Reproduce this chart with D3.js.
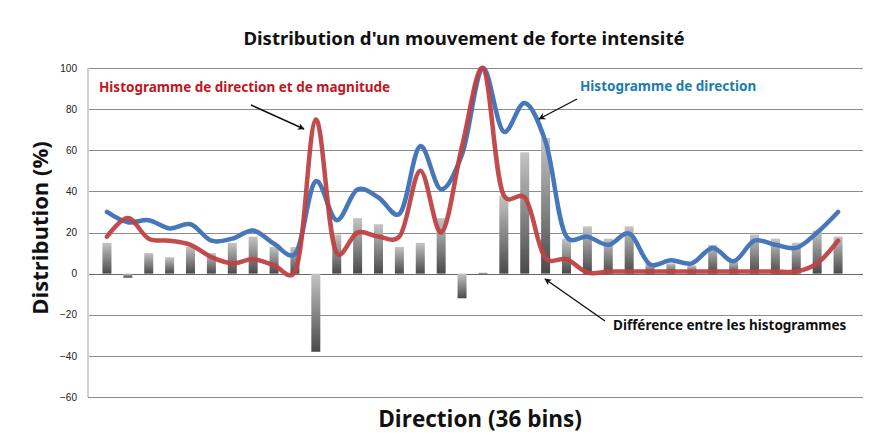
<!DOCTYPE html>
<html>
<head>
<meta charset="utf-8">
<script src="https://cdn.jsdelivr.net/npm/d3@7"></script>
<style>
  html, body { margin: 0; padding: 0; background: #fff; }
  svg { display: block; }
</style>
</head>
<body>
<svg id="chart" width="875" height="437"></svg>
<script>
// 36 direction bins
const bins = d3.range(1, 37);

// Difference between the two histograms (bars)
const diffValues = [15, -2, 10, 8, 13, 10, 15, 18, 13, 13, -38, 19, 27, 24, 13, 15, 27, -12,
                    0.5, 38, 59, 66, 17, 23, 17, 23, 5, 5, 4, 14, 6, 19, 17, 15, 21, 18];

// Direction histogram (blue)
const directionValues = [30, 25, 26, 22, 24, 16, 17, 21, 14.5, 9.5, 45, 26, 41, 37, 29, 62, 41, 58,
                         100, 69, 83, 64, 18, 18, 14, 19.5, 4.5, 6.5, 5, 12.5, 6, 16, 14, 12.5, 20, 30];

// Direction + magnitude histogram (red)
const magnitudeValues = [18, 27, 17, 16, 14, 8, 5, 7, 4, 1, 75, 10, 20, 18, 18, 50, 20, 62,
                         100, 38, 37, 7.5, 7, 0.5, 1, 1, 1, 1, 1, 1, 1, 1, 1, 1, 5, 16];

const yTicks = [-60, -40, -20, 0, 20, 40, 60, 80, 100];

const svg = d3.select("#chart");

const plot = { left: 88, right: 863, top: 68, bottom: 397 };

const x = d3.scaleBand()
  .domain(bins)
  .range([96.5, 848.5]);

const y = d3.scaleLinear()
  .domain([-60, 100])
  .range([plot.bottom, plot.top]);

const defs = svg.append("defs");

// Bar fill: light at the top, dark at the bottom
const grad = defs.append("linearGradient")
  .attr("id", "barGrad")
  .attr("x1", 0).attr("y1", 0).attr("x2", 0).attr("y2", 1);
grad.append("stop").attr("offset", "0%").attr("stop-color", "#c4c4c4");
grad.append("stop").attr("offset", "100%").attr("stop-color", "#4a4a4a");

defs.append("filter").attr("id", "soft")
  .attr("x", "-50%").attr("y", "-10%").attr("width", "200%").attr("height", "120%")
  .append("feGaussianBlur").attr("stdDeviation", 0.7);

defs.append("filter").attr("id", "softLine")
  .append("feGaussianBlur").attr("stdDeviation", 0.4);

defs.append("marker")
  .attr("id", "arrow")
  .attr("viewBox", "0 0 10 10")
  .attr("refX", 9).attr("refY", 5)
  .attr("markerWidth", 7).attr("markerHeight", 7)
  .attr("markerUnits", "userSpaceOnUse")
  .attr("orient", "auto")
  .append("path")
  .attr("d", "M0,0 L10,5 L0,10 L3,5 Z")
  .attr("fill", "#111");

// Horizontal gridlines
svg.append("g")
  .selectAll("line")
  .data(yTicks)
  .join("line")
  .attr("x1", plot.left)
  .attr("x2", plot.right)
  .attr("y1", d => Math.round(y(d)) + 0.5)
  .attr("y2", d => Math.round(y(d)) + 0.5)
  .attr("stroke", d => d === 0 ? "#666" : "#8c8c8c")
  .attr("stroke-width", 1);

// Left axis line
svg.append("line")
  .attr("x1", plot.left).attr("x2", plot.left)
  .attr("y1", plot.top).attr("y2", plot.bottom)
  .attr("stroke", "#cfcfcf")
  .attr("stroke-width", 2);

// Tick labels
const yAxis = d3.axisLeft(y).tickValues(yTicks).tickSize(0).tickPadding(11);
const yAxisG = svg.append("g")
  .attr("transform", `translate(${plot.left},0)`)
  .call(yAxis);
yAxisG.select(".domain").remove();
yAxisG.selectAll("text")
  .attr("font-family", "'Liberation Sans', Arial, sans-serif")
  .attr("font-size", 10)
  .attr("fill", "#222");

// Difference bars
const barW = 9;
svg.append("g")
  .attr("filter", "url(#soft)")
  .selectAll("rect")
  .data(bins.map((b, i) => ({ b, v: diffValues[i] })))
  .join("rect")
  .attr("x", d => x(d.b) + x.bandwidth() / 2 - barW / 2)
  .attr("width", barW)
  .attr("y", d => y(Math.max(0, d.v)))
  .attr("height", d => Math.abs(y(d.v) - y(0)))
  .attr("fill", "url(#barGrad)");

// Smoothed series lines
const line = d3.line()
  .x((d, i) => x(bins[i]) + x.bandwidth() / 2)
  .y(d => y(d))
  .curve(d3.curveCatmullRom.alpha(0.25));

svg.append("path")
  .datum(directionValues)
  .attr("d", line)
  .attr("fill", "none")
  .attr("stroke", "#4677bb")
  .attr("stroke-width", 4.5)
  .attr("stroke-linejoin", "round")
  .attr("stroke-linecap", "round")
  .attr("filter", "url(#softLine)");

svg.append("path")
  .datum(magnitudeValues)
  .attr("d", line)
  .attr("fill", "none")
  .attr("stroke", "#bf4245")
  .attr("stroke-width", 4.5)
  .attr("stroke-linejoin", "round")
  .attr("stroke-linecap", "round")
  .attr("opacity", 0.95)
  .attr("filter", "url(#softLine)");

// Title
svg.append("text")
  .attr("x", 464).attr("y", 45)
  .attr("text-anchor", "middle")
  .attr("font-family", "'Noto Sans', sans-serif")
  .attr("font-weight", "bold")
  .attr("font-size", 18.6)
  .attr("fill", "#111")
  .text("Distribution d'un mouvement de forte intensité");

// Axis titles
svg.append("text")
  .attr("transform", "translate(48,228) rotate(-90)")
  .attr("text-anchor", "middle")
  .attr("font-family", "'Open Sans', sans-serif")
  .attr("font-weight", "bold")
  .attr("font-size", 22)
  .attr("fill", "#111")
  .text("Distribution (%)");

svg.append("text")
  .attr("x", 480).attr("y", 427)
  .attr("text-anchor", "middle")
  .attr("font-family", "'Open Sans', sans-serif")
  .attr("font-weight", "bold")
  .attr("font-size", 22.5)
  .attr("fill", "#111")
  .text("Direction (36 bins)");

// Annotations
const notes = [
  { text: "Histogramme de direction et de magnitude", x: 99, y: 92, color: "#c2161f",
    from: [251, 105], to: [304, 129] },
  { text: "Histogramme de direction", x: 580, y: 91, color: "#1b7dab",
    from: [577, 99], to: [539, 119] },
  { text: "Différence entre les histogrammes", x: 613, y: 330, color: "#111",
    from: [605, 321], to: [545, 279] }
];

const noteG = svg.append("g");
notes.forEach(n => {
  noteG.append("text")
    .attr("x", n.x).attr("y", n.y)
    .attr("font-family", "'Noto Sans', sans-serif")
    .attr("font-weight", "bold")
    .attr("font-size", 13.5)
    .attr("fill", n.color)
    .text(n.text);
  noteG.append("line")
    .attr("x1", n.from[0]).attr("y1", n.from[1])
    .attr("x2", n.to[0]).attr("y2", n.to[1])
    .attr("stroke", "#111")
    .attr("stroke-width", 1.4)
    .attr("marker-end", "url(#arrow)");
});
</script>
</body>
</html>
